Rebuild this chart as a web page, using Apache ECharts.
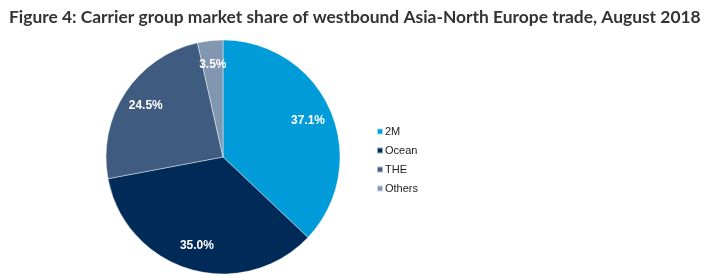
<!DOCTYPE html>
<html><head><meta charset="utf-8">
<script src="https://cdn.jsdelivr.net/npm/echarts@6/dist/echarts.min.js"></script>
<style>html,body{margin:0;padding:0;background:#fff}#c{width:711px;height:276px}</style>
</head><body><div id="c"></div>
<script>
const titleText = 'Figure 4: Carrier group market share of westbound Asia-North Europe trade, August 2018';
const categories = ['2M', 'Ocean', 'THE', 'Others'];
const shares = [37.1, 35.0, 24.5, 3.5];
const colors = ['#009bd9', '#002a57', '#3f5c80', '#8196b0'];

const chart = echarts.init(document.getElementById('c'), null, {renderer: 'canvas'});
const data = categories.map((n, i) => ({name: n, value: shares[i], itemStyle: {color: colors[i]}}));
chart.setOption({
  animation: false,
  title: {
    text: titleText, left: 4, top: 4,
    textStyle: {fontFamily: 'Lato', fontWeight: 'bold', fontSize: 17.4, color: '#333333'}
  },
  legend: {
    orient: 'vertical', left: 371, top: 121,
    data: categories, icon: 'rect', itemWidth: 6, itemHeight: 6, itemGap: 8,
    textStyle: {fontFamily: 'Liberation Sans, Arial', fontSize: 11, color: '#222', padding: [0,0,0,-3]}
  },
  series: [{
    type: 'pie', center: [223, 157], radius: [0, 117], startAngle: 90, clockwise: true,
    data: data, label: {show: false}, labelLine: {show: false},
    itemStyle: {borderColor: 'rgba(255,255,255,0.6)', borderWidth: 0.7},
    emphasis: {disabled: true}
  }, {
    type: 'pie', center: [223, 157], radius: [62, 117], startAngle: 90, clockwise: true, silent: true,
    data: categories.map((n, i) => ({name: n, value: shares[i]})),
    itemStyle: {color: 'rgba(0,0,0,0)'},
    label: {show: true, position: 'inside', formatter: p => p.value.toFixed(1) + '%',
      color: '#fff', fontWeight: 'bold', fontSize: 12, fontFamily: 'Liberation Sans, Arial'},
    labelLine: {show: false}, emphasis: {disabled: true}
  }]
});
</script></body></html>
